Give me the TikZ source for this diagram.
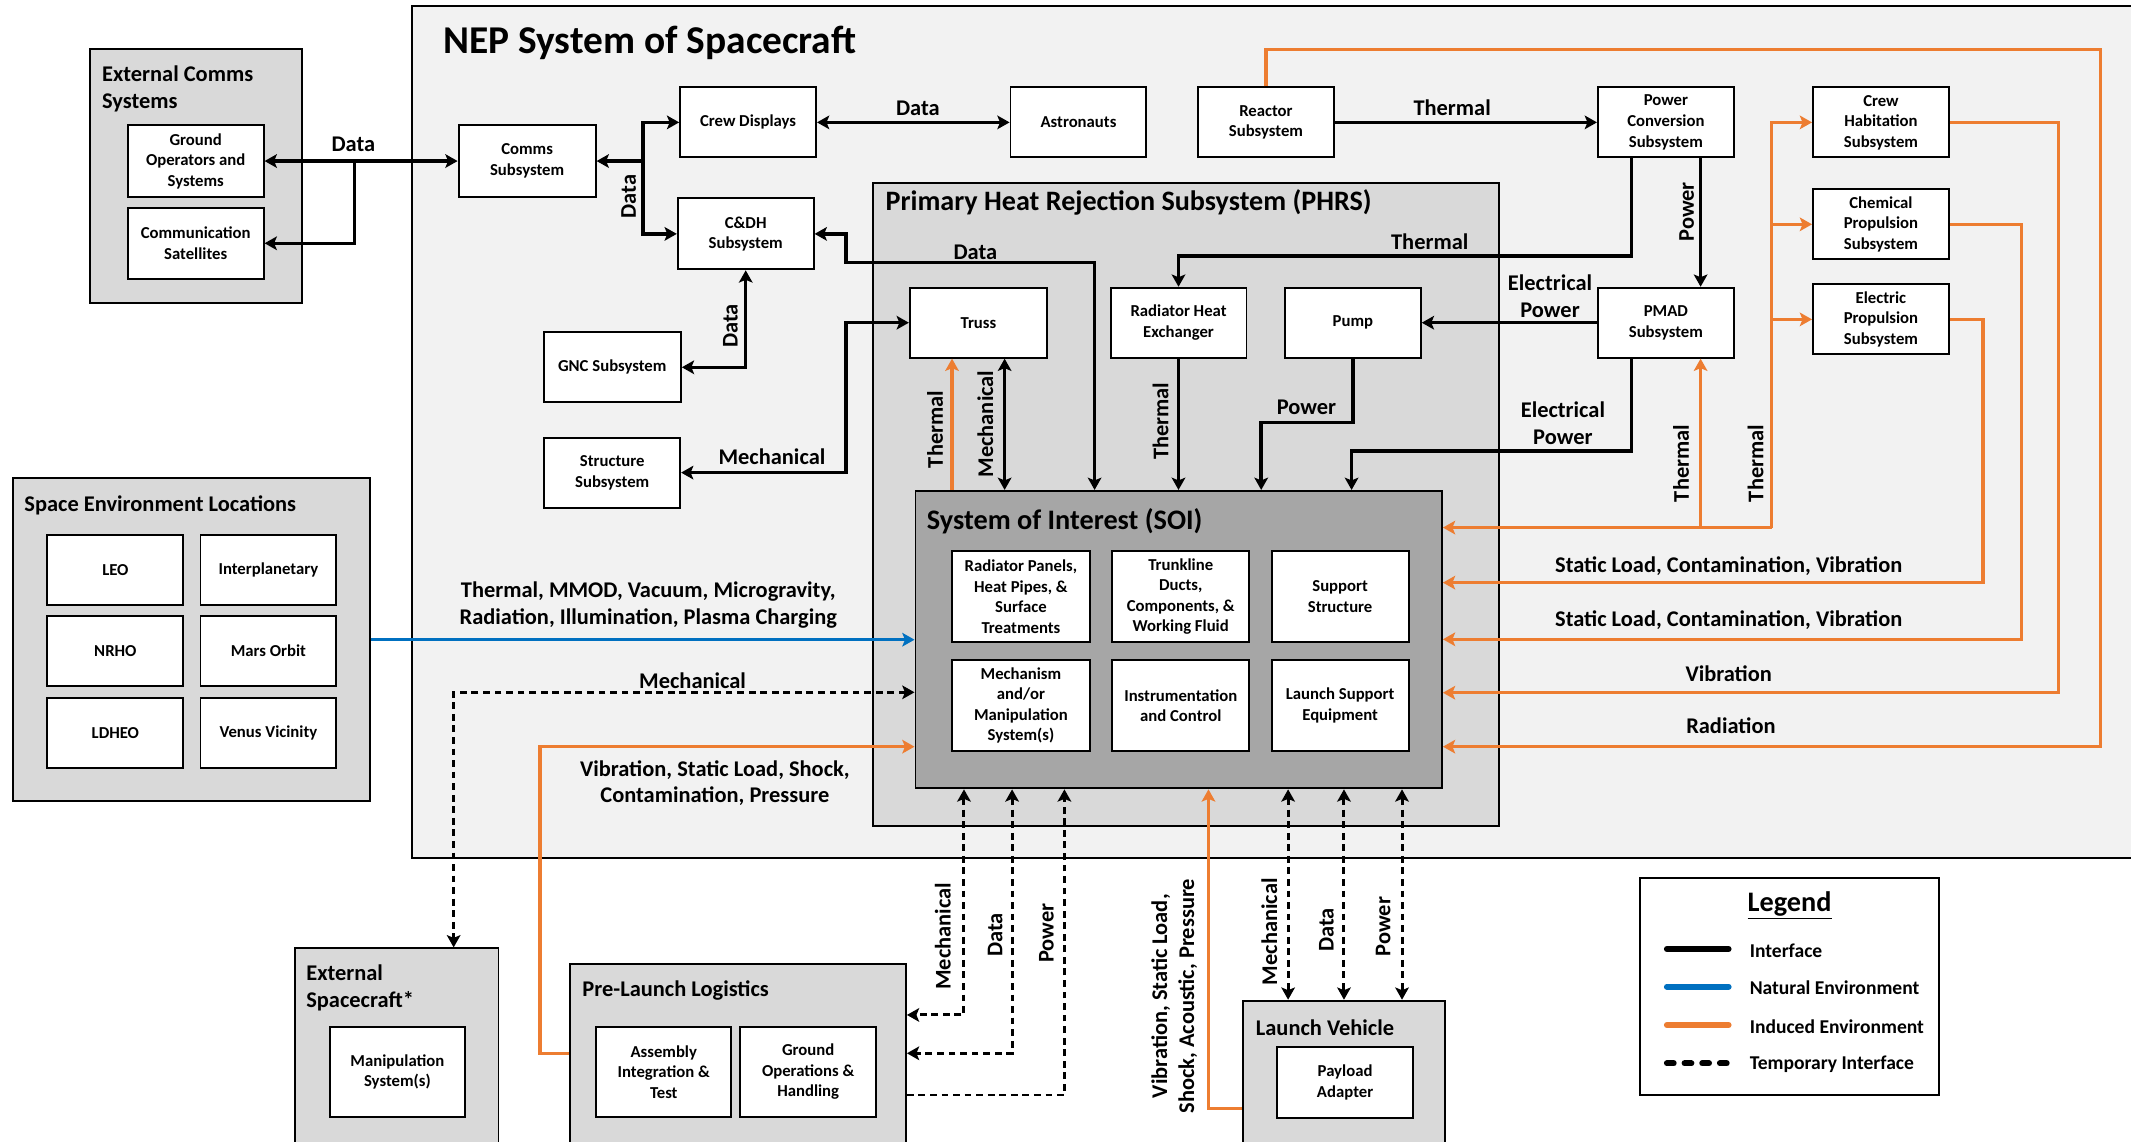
\documentclass[tikz,border=0pt]{standalone}
\usepackage{fontspec}
\setmainfont{Carlito}
\usetikzlibrary{arrows.meta,fit}
\definecolor{nepbg}{HTML}{F2F2F2}
\definecolor{grpbg}{HTML}{D9D9D9}
\definecolor{soibg}{HTML}{A6A6A6}
\definecolor{orng}{HTML}{ED7D31}
\definecolor{blu}{HTML}{0070C0}
\begin{document}
\begin{tikzpicture}[x=1pt,y=-1pt,
  >={Stealth[length=9pt,width=10pt,inset=2pt]},
  box/.style={draw,line width=1.4pt,fill=white,inner sep=0pt,align=center,minimum width=100pt,minimum height=51.5pt,font=\fontsize{12.3}{15.1}\selectfont\bfseries},
  sz/.style 2 args={minimum width=#1pt,minimum height=#2pt},
  grp/.style={draw,line width=1.4pt,fill=grpbg,inner sep=0pt},
  ttl/.style={anchor=west,inner sep=0pt,align=left,font=\fontsize{16.5}{19.6}\selectfont\bfseries},
  lbl/.style={inner sep=0pt,align=center,font=\fontsize{16.5}{19.8}\selectfont\bfseries},
  vlbl/.style={lbl,rotate=90},
  ifc/.style={draw=black,line width=2.6pt},
  ind/.style={draw=orng,line width=2.6pt},
  nat/.style={draw=blu,line width=2.6pt},
  tmp/.style={draw=black,line width=2.2pt,dash pattern=on 5pt off 3.5pt},
  lgt/.style={anchor=west,inner sep=0pt,font=\fontsize{14.4}{17}\selectfont\bfseries}
]
\useasboundingbox (0,0) rectangle (1568,840);
\clip (0,0) rectangle (1568,840);
\fill[white] (0,0) rectangle (1568,840);

% ---------- containers and boxes ----------
\node[grp,fill=nepbg,fit={(303,4.4) (1600,631)}] (nep) {};
\node[ttl,font=\fontsize{29}{34}\selectfont\bfseries] (neptitle) at (326,31.5) {NEP System of Spacecraft};

\node[grp,fit={(66,36) (222,223)}] (extc) {};
\node[ttl] (extctitle) at (75,65.5) {External Comms\\Systems};
\node[box,sz={100}{53}] (gnd) at (144,118.5) {Ground\\Operators and\\Systems};
\node[box,sz={100}{52}] (sats) at (144,179) {Communication\\Satellites};

\node[grp,fit={(9.8,352) (272,589.4)}] (senv) {};
\node[ttl] (senvtitle) at (17.8,371.5) {Space Environment Locations};
\node[box] (leo) at (84.9,419.4) {LEO};
\node[box] (interp) at (197.5,419.4) {Interplanetary};
\node[box] (nrho) at (84.9,478.75) {NRHO};
\node[box] (mars) at (197.5,478.75) {Mars Orbit};
\node[box] (ldheo) at (84.9,539.65) {LDHEO};
\node[box] (venus) at (197.5,539.65) {Venus Vicinity};

\node[box,sz={100.9}{53}] (comms) at (387.85,118.5) {Comms\\Subsystem};
\node[box] (crew) at (550.45,90.05) {Crew Displays};
\node[box] (astro) at (793.55,90.05) {Astronauts};
\node[box] (reactor) at (931.5,90.05) {Reactor\\Subsystem};
\node[box] (pcs) at (1225.75,90.05) {Power\\Conversion\\Subsystem};
\node[box] (crewhab) at (1384,90.05) {Crew\\Habitation\\Subsystem};
\node[box] (chem) at (1384,165.05) {Chemical\\Propulsion\\Subsystem};
\node[box] (elec) at (1384,235) {Electric\\Propulsion\\Subsystem};
\node[box,sz={100}{52.2}] (cdh) at (548.7,172.1) {C\&DH\\Subsystem};
\node[box,sz={101}{51.5}] (gnc) at (450.5,270.25) {GNC Subsystem};
\node[box] (struct) at (450.45,347.75) {Structure\\Subsystem};

\node[grp,fit={(642.3,134.4) (1102.8,607.8)}] (phrs) {};
\node[ttl,font=\fontsize{20.7}{24}\selectfont\bfseries] (phrstitle) at (651.5,149.2) {Primary Heat Rejection Subsystem (PHRS)};
\node[box,sz={101}{51.5}] (truss) at (719.95,237.45) {Truss};
\node[box] (rhx) at (867.15,237.45) {Radiator Heat\\Exchanger};
\node[box] (pump) at (995.45,237.45) {Pump};
\node[box] (pmad) at (1225.75,237.45) {PMAD\\Subsystem};

\node[grp,fill=soibg,fit={(673.6,361.2) (1061,580.1)}] (soi) {};
\node[ttl,font=\fontsize{20.8}{24}\selectfont\bfseries] (soititle) at (681.8,383.4) {System of Interest (SOI)};
\node[box,sz={101}{67.2}] (rad) at (751.2,439) {Radiator Panels,\\Heat Pipes, \&\\Surface\\Treatments};
\node[box,sz={100.6}{67.2}] (trunk) at (868.8,439) {Trunkline\\Ducts,\\Components, \&\\Working Fluid};
\node[box,sz={100.9}{67.2}] (supp) at (986.05,439) {Support\\Structure};
\node[box,sz={101}{67}] (mech) at (751.2,519.1) {Mechanism\\and/or\\Manipulation\\System(s)};
\node[box,sz={100.6}{67}] (instr) at (868.8,519.1) {Instrumentation\\and Control};
\node[box,sz={100.9}{67}] (lse) at (986.05,519.1) {Launch Support\\Equipment};

\node[grp,fit={(216.8,697.8) (366.8,860)}] (extsc) {};
\node[ttl] (extsctitle) at (225.2,727) {External\\Spacecraft*};
\node[box,sz={99.6}{66.7}] (manip) at (292.4,788.75) {Manipulation\\System(s)};

\node[grp,fit={(419.6,709.3) (666.6,860)}] (prel) {};
\node[ttl] (preltitle) at (428.4,729) {Pre-Launch Logistics};
\node[box,sz={99.2}{66.7}] (ait) at (488.4,788.75) {Assembly\\Integration \&\\Test};
\node[box,sz={100.1}{66.7}] (gops) at (594.65,788.75) {Ground\\Operations \&\\Handling};

\node[grp,fit={(914.3,736.3) (1063.1,860)}] (lv) {};
\node[ttl] (lvtitle) at (923.9,756.4) {Launch Vehicle};
\node[box,sz={99.8}{52.8}] (payload) at (989.7,796.5) {Payload\\Adapter};

\node[draw,line width=1.4pt,fill=white,inner sep=0pt,fit={(1206.7,646.3) (1426.9,805.7)}] (legend) {};
\node[lbl,font=\fontsize{20.8}{24}\selectfont\bfseries] (legtitle) at (1316.8,666.5) {\underline{Legend}};

% ---------- coordinates ----------
\coordinate (jd) at (261,118.5);
\coordinate (bus) at (473,118.5);
\coordinate (tpc) at (1200.6,188.4);
\coordinate (ep) at (1200.6,331.8);
\coordinate (ep2) at (994.5,331.8);
\coordinate (pw) at (995.45,311);
\coordinate (pw2) at (928,311);
\coordinate (pp) at (1251.3,150);
\coordinate (tm) at (739.2,300);
\coordinate (tt) at (700.5,300);
\coordinate (d1) at (622.6,193);
\coordinate (d2) at (805.4,193);
\coordinate (m1) at (622.6,347.75);
\coordinate (rt) at (1545.6,36.3);
\coordinate (rr) at (1545.6,549.4);
\coordinate (v1) at (1514.8,509.7);
\coordinate (v2) at (1487.3,470.4);
\coordinate (v3) at (1458.9,428.7);
\coordinate (tb) at (1303.5,388.2);
\coordinate (tp) at (1251.3,388.2);
\coordinate (em) at (333.8,509.4);
\coordinate (oa) at (397.2,775);
\coordinate (ob) at (397.2,549.4);
\coordinate (pm) at (709.3,746.8);
\coordinate (pd) at (744.7,775);
\coordinate (pq) at (783.2,805.7);
\coordinate (o2) at (889.2,815.5);
\coordinate (lm) at (947.8,650);
\coordinate (ld) at (988.9,650);
\coordinate (lp) at (1031.6,650);

% ---------- interfaces (black) ----------
\draw[ifc,<->] (gnd.east) -- (comms.west);
\draw[ifc,->] (jd) |- (sats.east);
\draw[ifc,->] (bus) -- (comms.east);
\draw[ifc,->] (bus) |- (crew.west);
\draw[ifc,->] (bus) |- (cdh.west);
\draw[ifc,<->] (crew.east) -- (astro.west);
\draw[ifc,->] (reactor.east) -- (pcs.west);
\draw[ifc,->] (pcs.south -| pp) -- (pmad.north -| pp);
\draw[ifc,->] (pcs.south -| tpc) -- (tpc) -| (rhx.north);
\draw[ifc,->] (pmad.west) -- (pump.east);
\draw[ifc,->] (pmad.south -| ep) -- (ep) -- (ep2) -- (soi.north -| ep2);
\draw[ifc,->] (pump.south) -- (pw) -- (pw2) -- (soi.north -| pw2);
\draw[ifc,->] (rhx.south) -- (soi.north -| rhx.south);
\draw[ifc,<->] (truss.south -| tm) -- (soi.north -| tm);
\draw[ifc,<->] (cdh.east) -| (d1) -- (d2) -- (soi.north -| d2);
\draw[ifc,<->] (truss.west) -| (m1) -- (struct.east);
\draw[ifc,<->] (cdh.south) |- (gnc.east);

% ---------- induced environment (orange) ----------
\draw[ind,->] (soi.north -| tt) -- (truss.south -| tt);
\draw[ind,->] (reactor.north) |- (rt) -- (rr) -- (soi.east |- rr);
\draw[ind,->] (crewhab.east) -| (v1) -- (soi.east |- v1);
\draw[ind,->] (chem.east) -| (v2) -- (soi.east |- v2);
\draw[ind,->] (elec.east) -| (v3) -- (soi.east |- v3);
\draw[ind,->] (tb) -- (soi.east |- tb);
\draw[ind,->] (tp) -- (pmad.south -| tp);
\draw[ind,->] (tb) |- (crewhab.west);
\draw[ind,->] (tb) |- (chem.west);
\draw[ind,->] (tb) |- (elec.west);
\draw[ind,->] (prel.west |- oa) -- (oa) -- (ob) -- (soi.west |- ob);
\draw[ind,->] (lv.west |- o2) -- (o2) -- (soi.south -| o2);

% ---------- natural environment (blue) ----------
\draw[nat,->] (senv.east) -- (soi.west |- senv.east);

% ---------- temporary interfaces ----------
\draw[tmp,<->] (soi.west |- em) -- (em) -- (extsc.north -| em);
\draw[tmp,<->] (soi.south -| pm) -- (pm) -- (prel.east |- pm);
\draw[tmp,<->] (soi.south -| pd) -- (pd) -- (prel.east |- pd);
\draw[tmp,->] (prel.east |- pq) -- (pq) -- (soi.south -| pq);
\draw[tmp,<->] (soi.south -| lm) -- (lv.north -| lm);
\draw[tmp,<->] (soi.south -| ld) -- (lv.north -| ld);
\draw[tmp,<->] (soi.south -| lp) -- (lv.north -| lp);

% ---------- labels ----------
\node[lbl] (l1) at (260,106.5) {Data};
\node[vlbl] (l2) at (462.6,144.7) {Data};
\node[lbl] (l3) at (675.4,79.5) {Data};
\node[vlbl] (l4) at (537.4,240) {Data};
\node[lbl] (l5) at (1068.5,79.5) {Thermal};
\node[lbl] (l6) at (717.7,185.5) {Data};
\node[lbl] (l7) at (1052,178) {Thermal};
\node[vlbl] (l8) at (1241,155.8) {Power};
\node[lbl] (l9) at (1140.5,217.8) {Electrical\\Power};
\node[lbl] (l10) at (568,336) {Mechanical};
\node[vlbl] (l11) at (688,316) {Thermal};
\node[vlbl] (l12) at (725,312) {Mechanical};
\node[vlbl] (l13) at (854,310) {Thermal};
\node[lbl] (l14) at (961.3,299.8) {Power};
\node[lbl] (l15) at (1150,311.2) {Electrical\\Power};
\node[vlbl] (l16) at (1237,341) {Thermal};
\node[vlbl] (l17) at (1291.8,341) {Thermal};
\node[lbl] (l18) at (1272,416.7) {Static Load, Contamination, Vibration};
\node[lbl] (l19) at (1272,456) {Static Load, Contamination, Vibration};
\node[lbl] (l20) at (1272,495.7) {Vibration};
\node[lbl] (l21) at (1273.6,534) {Radiation};
\node[lbl] (l22) at (477,444.9) {Thermal, MMOD, Vacuum, Microgravity,\\Radiation, Illumination, Plasma Charging};
\node[lbl] (l23) at (509.6,501) {Mechanical};
\node[lbl] (l24) at (526,576.2) {Vibration, Static Load, Shock,\\Contamination, Pressure};
\node[vlbl] (l25) at (693.8,689) {Mechanical};
\node[vlbl] (l26) at (732.3,688) {Data};
\node[vlbl] (l27) at (770,686.7) {Power};
\node[vlbl] (l28) at (864,733) {Vibration, Static Load,\\Shock, Acoustic, Pressure};
\node[vlbl] (l29) at (934,685.5) {Mechanical};
\node[vlbl] (l30) at (976,684.3) {Data};
\node[vlbl] (l31) at (1017.8,681.8) {Power};

% ---------- legend ----------
\coordinate (la1) at (1226.5,698.3); \coordinate (lb1) at (1271.9,698.3);
\coordinate (la2) at (1226.5,726);   \coordinate (lb2) at (1271.9,726);
\coordinate (la3) at (1226.5,754.2); \coordinate (lb3) at (1271.9,754.2);
\coordinate (la4) at (1226.5,782.4); \coordinate (lb4) at (1271.9,782.4);
\draw[line width=4.4pt,line cap=round] (la1) -- (lb1);
\draw[line width=4.4pt,line cap=round,draw=blu] (la2) -- (lb2);
\draw[line width=4.4pt,line cap=round,draw=orng] (la3) -- (lb3);
\draw[line width=4.4pt,line cap=round,dash pattern=on 5pt off 8pt] (la4) -- (lb4);
\node[lgt] (lt1) at (1287.3,699.3) {Interface};
\node[lgt] (lt2) at (1287.3,727) {Natural Environment};
\node[lgt] (lt3) at (1287.3,755.2) {Induced Environment};
\node[lgt] (lt4) at (1287.3,783.4) {Temporary Interface};
\end{tikzpicture}
\end{document}
